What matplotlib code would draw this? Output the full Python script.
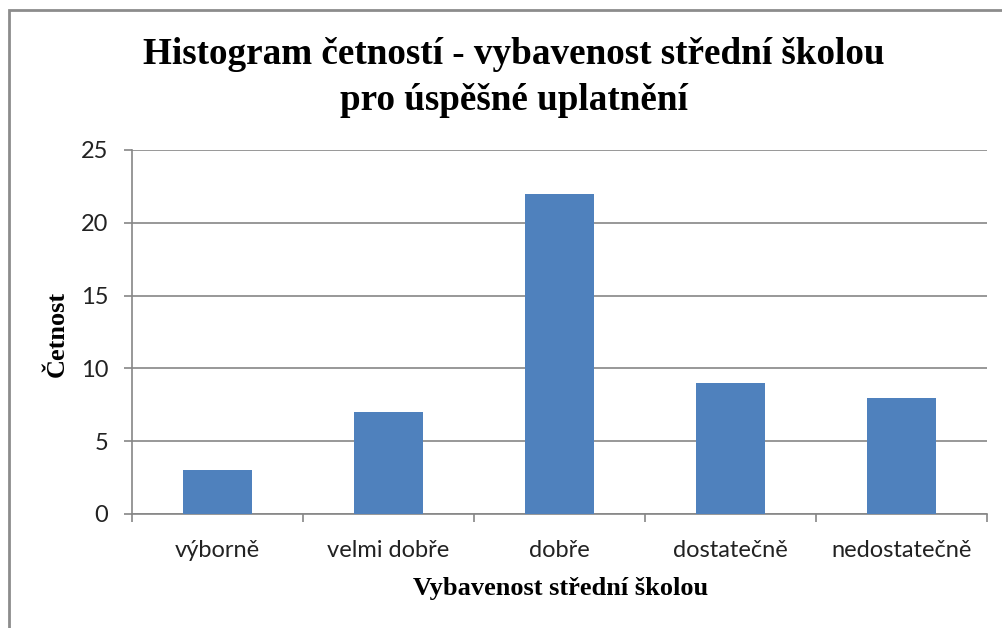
import matplotlib.pyplot as plt
from matplotlib.patches import Rectangle

categories = ['výborně', 'velmi dobře', 'dobře', 'dostatečně', 'nedostatečně']
counts = [3, 7, 22, 9, 8]
yticks = [0, 5, 10, 15, 20, 25]

W, H = 1003, 628
fig = plt.figure(figsize=(W / 100, H / 100), dpi=100)
ax = fig.add_axes([132 / W, 1 - 514 / H, (987 - 132) / W, (514 - 150) / H])

gray = '#868686'
ax.bar(range(len(categories)), counts, width=0.4, color='#4F81BD', zorder=3)
ax.set_xlim(-0.5, len(categories) - 0.5)
ax.set_ylim(0, 25)
ax.set_yticks(yticks)
ax.yaxis.grid(True, color=gray, lw=1.2, zorder=0)

ax.set_xticks(range(len(categories)))
ax.set_xticklabels(categories)
ax.set_xticks([i - 0.5 for i in range(len(categories) + 1)], minor=True)
ax.tick_params(axis='x', which='major', length=0, pad=19)
ax.tick_params(axis='x', which='minor', length=6, width=1.2, color=gray, direction='out')
ax.tick_params(axis='y', length=6, width=1.2, color=gray, pad=11)
for lab in ax.get_xticklabels() + ax.get_yticklabels():
    lab.set_fontfamily('Lato')
    lab.set_fontsize(17)
    lab.set_color('#222222')

for s in ['top', 'right']:
    ax.spines[s].set_visible(False)
ax.spines['left'].set_color(gray)
ax.spines['bottom'].set_color(gray)
ax.spines['left'].set_linewidth(1.2)
ax.spines['bottom'].set_linewidth(1.2)

serif = 'Liberation Serif'
fig.text(514 / W, 1 - 55 / H, 'Histogram četností - vybavenost střední školou',
         ha='center', va='center', fontfamily=serif, fontweight='bold', fontsize=26.7)
fig.text(514 / W, 1 - 100 / H, 'pro úspěšné uplatnění',
         ha='center', va='center', fontfamily=serif, fontweight='bold', fontsize=26.7)
fig.text(57 / W, 1 - 334 / H, 'Četnost', rotation=90, ha='center', va='center',
         fontfamily=serif, fontweight='bold', fontsize=19)
fig.text(561 / W, 1 - 589 / H, 'Vybavenost střední školou', ha='center', va='center',
         fontfamily=serif, fontweight='bold', fontsize=19)

fig.patches.append(Rectangle((9 / W, -0.05), 1.1, 1 - 10 / H + 0.05, transform=fig.transFigure,
                             fill=False, edgecolor='#8c8c8c', lw=2))

fig.savefig('out.png', dpi=100)
